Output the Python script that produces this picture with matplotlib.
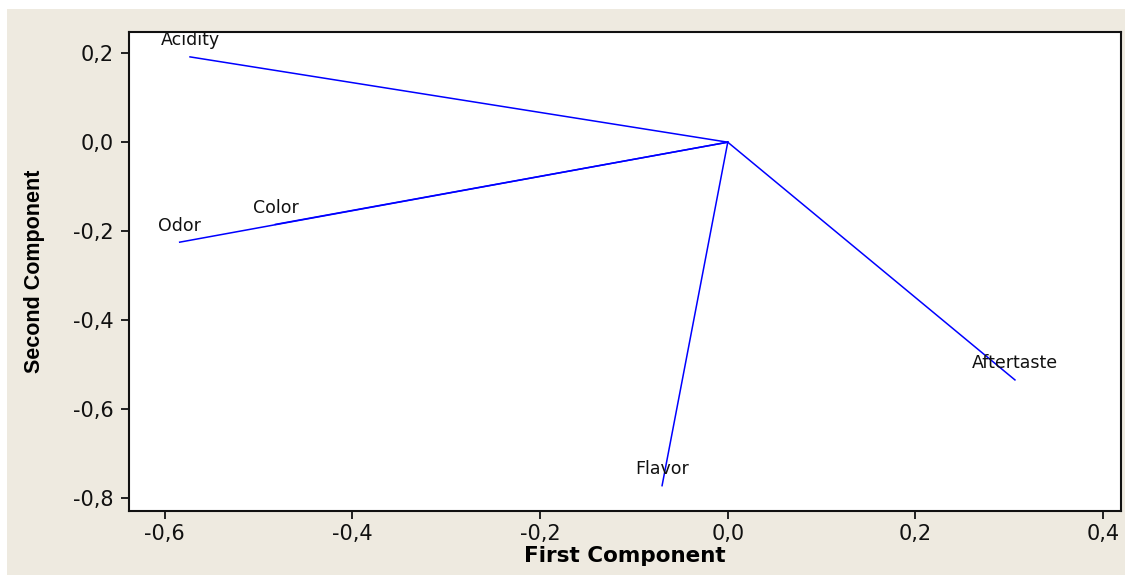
import matplotlib
matplotlib.use("Agg")
import matplotlib.pyplot as plt
from matplotlib.patches import Rectangle

variables = ["Acidity", "Odor", "Color", "Flavor", "Aftertaste"]
first_component = [-0.573, -0.584, -0.482, -0.070, 0.306]
second_component = [0.192, -0.225, -0.185, -0.773, -0.535]

x_ticks = [-0.6, -0.4, -0.2, 0.0, 0.2, 0.4]
y_ticks = [0.2, 0.0, -0.2, -0.4, -0.6, -0.8]

def fmt(v):
    return f"{v:.1f}".replace(".", ",")

fig = plt.figure(figsize=(11.25, 5.75), dpi=100, facecolor="white")
fig.patches.append(Rectangle((7 / 1125, 0), 1 - 7 / 1125, 1 - 9 / 575,
                             transform=fig.transFigure, facecolor="#EEEAE0",
                             edgecolor="none", zorder=-10))
ax = fig.add_axes([129 / 1125, 1 - 511 / 575, (1121 - 129) / 1125, (511 - 32) / 575])
ax.set_facecolor("white")

for name, x, y in zip(variables, first_component, second_component):
    ax.plot([0, x], [0, y], color="#0000FF", lw=1.1)
    ax.annotate(name, (x, y), xytext=(0, 12), textcoords="offset points",
                ha="center", va="center", fontsize=12.5, color="#111111",
                family="DejaVu Sans")

ax.set_xlim(-0.638, 0.419)
ax.set_ylim(-0.830, 0.248)
ax.set_xticks(x_ticks)
ax.set_xticklabels([fmt(v) for v in x_ticks])
ax.set_yticks(y_ticks)
ax.set_yticklabels([fmt(v) for v in y_ticks])
ax.tick_params(axis="both", labelsize=15, length=6, width=1.3, direction="out",
               colors="#111111")
ax.tick_params(axis="y", pad=5)
for s in ax.spines.values():
    s.set_linewidth(1.5)
    s.set_color("#111111")

ax.set_xlabel("First Component", fontsize=15.5, fontweight="bold", labelpad=1,
              family="DejaVu Sans")
ax.set_ylabel("Second Component", fontsize=15.5, fontweight="bold", labelpad=20,
              family=["Liberation Sans", "DejaVu Sans"])

fig.savefig("out.png", dpi=100, facecolor=fig.get_facecolor())
